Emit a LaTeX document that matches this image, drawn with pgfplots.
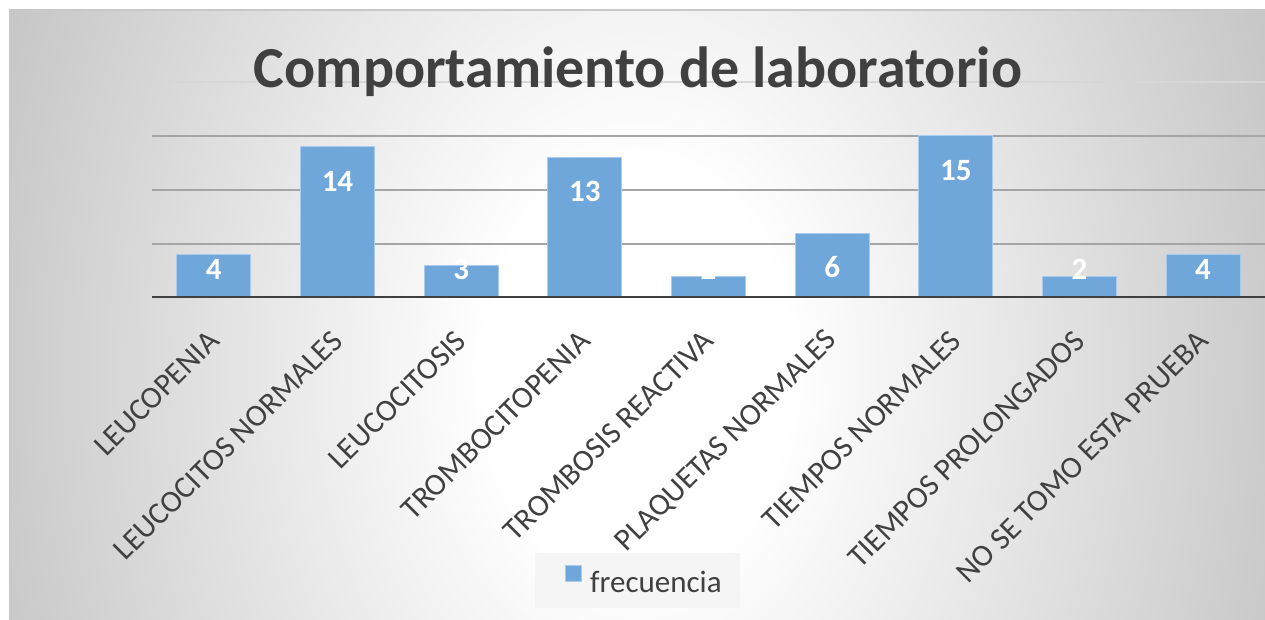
\documentclass[border=0pt]{standalone}
\usepackage{fontspec}
\setmainfont{Carlito}
\usepackage{pgfplots}
\pgfplotsset{compat=1.18}
\usepackage{pgfplotstable}
\definecolor{textdark}{RGB}{64,64,64}
\definecolor{barblue}{RGB}{112,167,218}
\definecolor{baredge}{RGB}{170,203,235}
\definecolor{gridgray}{RGB}{165,165,165}
\definecolor{gridtop}{RGB}{215,215,215}
\definecolor{axisdark}{RGB}{64,64,64}
\definecolor{legendbg}{RGB}{245,245,245}
\definecolor{framebd}{RGB}{200,200,200}
\definecolor{bggray}{RGB}{196,196,196}
\pgfdeclareradialshading{chartbg}{\pgfpoint{0bp}{0bp}}{color(0bp)=(white); color(6bp)=(white); color(28bp)=(bggray); color(60bp)=(bggray)}

\pgfplotstableread{
x v ly
0 4 2.6
1 14 10.8
2 3 2.6
3 13 9.9
4 2 2.65
5 6 2.9
6 15 11.8
7 2 2.7
8 4 2.6
}\datatable

\begin{document}
\begin{tikzpicture}[x=1pt,y=1pt]
\useasboundingbox (0,0) rectangle (1265,620);
\fill[white] (0,0) rectangle (1265,620);
\begin{scope}
\clip (10,0) rectangle (1265,610);
\shade[shading=chartbg] (10,-600) rectangle (1265,1100);
\end{scope}
\draw[framebd, line width=1.5pt] (10,0) -- (10,610) -- (1265,610);
\fill[legendbg] (535,12) rectangle (740,67);

\begin{axis}[
  at={(152pt,322pt)}, anchor=south west,
  scale only axis, width=1113pt, height=216pt,
  xmin=-0.5, xmax=8.5, ymin=0, ymax=20,
  axis line style={draw=none},
  xtick={0,1,2,3,4,5,6,7,8},
  xticklabels={LEUCOPENIA, LEUCOCITOS NORMALES, LEUCOCITOSIS, TROMBOCITOPENIA, TROMBOSIS REACTIVA, PLAQUETAS NORMALES, TIEMPOS NORMALES, TIEMPOS PROLONGADOS, NO SE TOMO ESTA PRUEBA},
  xticklabel style={inner sep=0pt, anchor=east, rotate=45, text=textdark, font=\fontsize{31}{31}\selectfont},
  xticklabel shift=38pt,
  ytick={5,10,15}, yticklabels={},
  extra y ticks={20}, extra y tick labels={},
  extra y tick style={grid style={draw=gridtop, line width=1.3pt}},
  ymajorgrids, grid style={draw=gridgray, line width=1.3pt},
  major tick length=0pt,
  tick style={draw=none},
  legend style={at={(axis description cs:0.3711,-1.308)}, anchor=west, draw=none, fill=none, inner sep=0pt, font=\fontsize{31}{31}\selectfont, text=textdark},
]
\addplot[ybar, bar width=74pt, fill=barblue, draw=baredge, line width=1pt,
  legend image code/.code={\draw[fill=barblue, draw=baredge, line width=1pt] (0pt,1pt) rectangle (16pt,17pt); \path (22pt,0pt);}]
  table[x=x, y=v] \datatable;
\addlegendentry{frecuencia}
\draw[axisdark, line width=3.6pt] (axis cs:-0.5,0) -- (axis cs:8.5,0);
\addplot[draw=none, forget plot, nodes near coords, point meta=explicit symbolic,
  nodes near coords style={anchor=center, text=white, font=\bfseries\fontsize{31}{31}\selectfont}]
  table[x=x, y=ly, meta=v] \datatable;
\end{axis}

\node[anchor=base, text=textdark, font=\bfseries\fontsize{58}{58}\selectfont] at (638,532) {Comportamiento de laboratorio};
\end{tikzpicture}
\end{document}
